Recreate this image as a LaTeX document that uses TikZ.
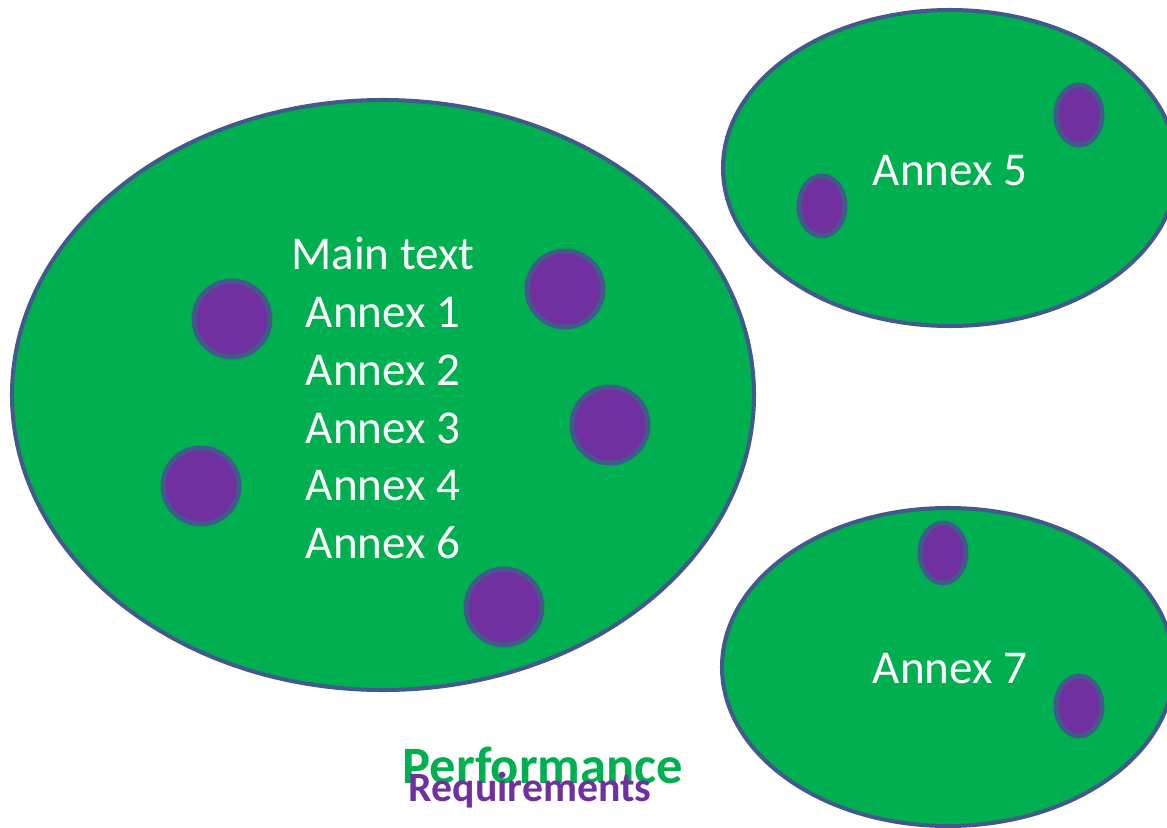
\documentclass[tikz,border=0pt]{standalone}
\usepackage{fontspec}
\setmainfont{Carlito}
\usepackage{tikz}
\usetikzlibrary{positioning}
\definecolor{blobgreen}{HTML}{00B050}
\definecolor{rimblue}{HTML}{41598B}
\definecolor{seedpurple}{HTML}{7030A0}

\begin{document}
\begin{tikzpicture}[
	x=0.02cm, y=-0.02cm,
	blob/.style={draw=rimblue,line width=2.3pt,fill=blobgreen},
	seed/.style={draw=rimblue,line width=2.8pt,fill=seedpurple},
	label/.style={text=white,font=\fontsize{26.8}{33}\selectfont,align=center,inner sep=0pt}
	]
	\useasboundingbox (0,0) rectangle (1167,828);
	% main body
	\draw[blob] (383,395) ellipse [x radius=371, y radius=295];
	\node[label] (core) at (383,398) {Main text\\Annex 1\\Annex 2\\Annex 3\\Annex 4\\Annex 6};
	\draw[seed] (232,319) circle [radius=38];
	\draw[seed] (565,289) circle [radius=38];
	\draw[seed] (610,425) circle [radius=38];
	\draw[seed] (201,486) circle [radius=38];
	\draw[seed] (504,607) circle [radius=38];
	% annex 5
	\draw[blob] (950,168) ellipse [x radius=227, y radius=158];
	\node[label] (ann5) at (950,171) {Annex 5};
	\draw[seed] (822,206) ellipse [x radius=23, y radius=30];
	\draw[seed] (1079,115) ellipse [x radius=23, y radius=30];
	% annex 7
	\draw[blob] (948,667) ellipse [x radius=226, y radius=159];
	\node[label] (ann7) at (950,669) {Annex 7};
	\draw[seed] (943,553) ellipse [x radius=23, y radius=30];
	\draw[seed] (1079,706) ellipse [x radius=23, y radius=30];
	% caption
	\node[text=blobgreen,font=\bfseries\fontsize{29.9}{34}\selectfont,inner sep=0pt] (perf) at (543,765) {Performance};
	\node[text=seedpurple,font=\bfseries\fontsize{23.8}{28}\selectfont,inner sep=0pt] (req) at (530,790) {Requirements};
\end{tikzpicture}
\end{document}
